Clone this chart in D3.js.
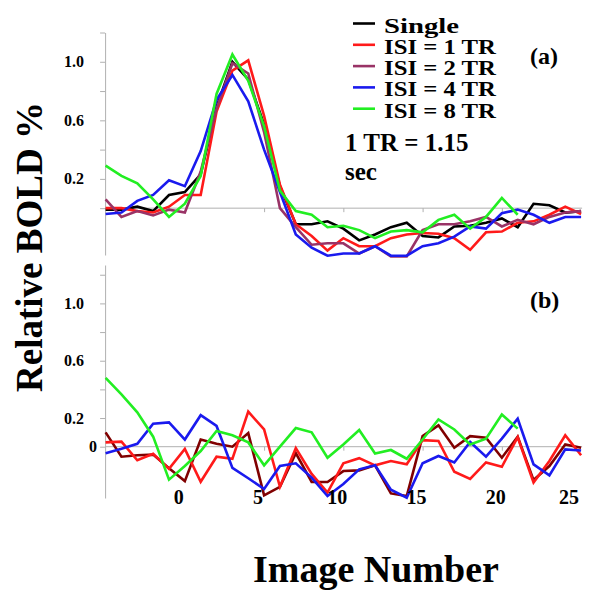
<!DOCTYPE html>
<html>
<head>
<meta charset="utf-8">
<script src="https://cdn.jsdelivr.net/npm/d3@7"></script>
<style>
  html, body { margin: 0; padding: 0; background: #fff; }
  svg text { font-family: "Liberation Serif", "Times New Roman", serif; font-weight: bold; fill: #000; }
</style>
</head>
<body>
<svg id="chart" width="600" height="598"></svg>
<script>
// ---------------- DATA ----------------
const imageNumbers = d3.range(-5, 26); // -5 .. 25
const seriesNames = ["Single", "ISI = 1 TR", "ISI = 2 TR", "ISI = 4 TR", "ISI = 8 TR"];
const seriesColors = ["#000000", "#ff1a1a", "#993366", "#1a1aee", "#22ee22"];

// Panel (a)
const aSingle = [-0.01,-0.01,0.01,-0.02,0.09,0.11,0.23,0.69,1.00,0.88,0.57,0.15,-0.11,-0.11,-0.09,-0.14,-0.22,-0.18,-0.13,-0.10,-0.19,-0.20,-0.125,-0.12,-0.10,-0.07,-0.13,0.03,0.02,-0.03,-0.02];
const aISI1   = [0.00,0.00,-0.02,-0.03,0.01,0.09,0.09,0.66,0.94,1.01,0.63,0.16,-0.11,-0.19,-0.29,-0.205,-0.26,-0.26,-0.205,-0.18,-0.17,-0.175,-0.205,-0.285,-0.165,-0.16,-0.10,-0.09,-0.045,0.01,-0.04];
const aISI2   = [0.06,-0.06,-0.02,-0.05,-0.01,-0.03,0.25,0.68,0.99,0.92,0.52,0.00,-0.13,-0.25,-0.24,-0.24,-0.31,-0.26,-0.33,-0.33,-0.15,-0.11,-0.11,-0.09,-0.06,-0.125,-0.08,-0.11,-0.06,-0.03,-0.02];
const aISI4   = [-0.04,-0.03,0.05,0.09,0.19,0.15,0.39,0.74,0.91,0.73,0.40,0.11,-0.18,-0.27,-0.325,-0.31,-0.31,-0.26,-0.325,-0.325,-0.26,-0.24,-0.195,-0.125,-0.14,-0.035,-0.01,-0.045,-0.10,-0.06,-0.06];
const aISI8   = [0.29,0.22,0.17,0.06,-0.06,0.03,0.22,0.78,1.05,0.87,0.56,0.12,-0.02,-0.045,-0.13,-0.12,-0.15,-0.205,-0.16,-0.15,-0.165,-0.08,-0.045,-0.14,-0.06,0.07,-0.045];

// Panel (b)
const bMaroon = [0.10,-0.07,-0.06,-0.055,-0.15,-0.24,0.05,0.02,0.00,0.095,-0.34,-0.28,-0.045,-0.246,-0.246,-0.17,-0.165,-0.13,-0.326,-0.344,0.074,0.149,-0.007,0.074,0.063,-0.077,0.07,-0.233,-0.135,0.016,-0.007];
const bRed    = [0.03,0.035,-0.095,-0.05,-0.155,-0.015,-0.245,-0.07,-0.085,0.245,0.12,-0.28,-0.01,-0.19,-0.32,-0.116,-0.08,-0.13,-0.10,-0.123,0.046,0.04,-0.175,-0.225,-0.11,-0.14,0.066,-0.25,-0.10,0.08,-0.06];
const bBlue   = [-0.045,-0.015,0.02,0.16,0.17,0.05,0.22,0.145,-0.148,-0.22,-0.295,-0.135,-0.116,-0.216,-0.344,-0.26,-0.158,-0.13,-0.30,-0.356,-0.116,-0.065,-0.11,0.033,-0.07,0.056,0.195,-0.123,-0.20,-0.019,-0.026];
const bGreen  = [0.48,0.365,0.24,0.07,-0.23,-0.135,-0.03,0.11,0.08,0.03,-0.13,0.00,0.13,0.10,-0.077,0.016,0.116,-0.047,-0.023,-0.084,0.05,0.19,0.12,0.016,0.056,0.225,0.126];
const bColors = ["#800000", "#ff1a1a", "#1a1aee", "#22ee22"];

const yTickValues = [0, 0.2, 0.4, 0.6, 0.8, 1.0, 1.2];
const yLabelsA = [0.2, 0.6, 1.0];
const yLabelsB = [0, 0.2, 0.6, 1.0];
const xTickValues = [0, 5, 10, 15, 20, 25];

// ---------------- DRAW ----------------
const svg = d3.select("#chart");

const x = d3.scaleLinear().domain([-5, 25]).range([105.6, 581.1]);
const yA = d3.scaleLinear().domain([-0.32, 1.2]).range([255, 32.5]);
const yB = d3.scaleLinear().domain([-0.358, 1.268]).range([498, 265]);

function panel(y, labels, seriesList, colors, tag, tagY) {
  const g = svg.append("g");
  const ax = g.append("g").attr("transform", `translate(${x(-5) - 0.5},0)`)
    .call(d3.axisLeft(y).tickValues(yTickValues).tickSize(5).tickSizeOuter(0).tickFormat(""));
  ax.selectAll("path, line").attr("stroke", "#b0b0b0");
  const zx = g.append("g").attr("transform", `translate(0,${y(0)})`)
    .call(d3.axisBottom(x).tickValues(xTickValues.slice(1, 5)).tickSize(4).tickSizeOuter(0).tickFormat(""));
  zx.selectAll("path, line").attr("stroke", "#b0b0b0");
  zx.select("path").attr("d", `M${x(-5)},0H${x(25) + 1}`);
  g.selectAll("text.yl").data(labels).enter().append("text")
    .attr("class", "yl")
    .attr("x", d => d === 0 ? 97 : 84)
    .attr("y", d => y(d))
    .attr("dy", "0.35em")
    .attr("text-anchor", "end")
    .style("font-size", "16px")
    .text(d => d === 0 ? "0" : d.toFixed(1));
  const line = d3.line().x((d, i) => x(imageNumbers[i])).y(d => y(d));
  seriesList.forEach((s, k) => {
    g.append("path").datum(s)
      .attr("fill", "none")
      .attr("stroke", colors[k])
      .attr("stroke-width", 2.6)
      .attr("stroke-linejoin", "miter")
      .attr("d", line);
  });
  g.append("text").attr("x", 530).attr("y", tagY).style("font-size", "24px").text(tag);
}

panel(yA, yLabelsA, [aSingle, aISI1, aISI2, aISI4, aISI8], seriesColors, "(a)", 64);
panel(yB, yLabelsB, [bMaroon, bRed, bBlue, bGreen], bColors, "(b)", 308);

svg.selectAll("text.xl").data(xTickValues).enter().append("text")
  .attr("class", "xl")
  .attr("x", d => x(d) - (d === 25 ? 12 : 6))
  .attr("y", 504)
  .attr("text-anchor", "middle")
  .style("font-size", "20px")
  .text(d => d);

// legend
const legend = svg.append("g");
seriesNames.forEach((name, k) => {
  const ly = 23.5 + k * 21.3;
  legend.append("line").attr("x1", 353).attr("x2", 375).attr("y1", ly).attr("y2", ly)
    .attr("stroke", seriesColors[k]).attr("stroke-width", 2.6);
  legend.append("text").attr("x", 384).attr("y", ly + 9)
    .style("font-size", "20px")
    .attr("textLength", 112).attr("lengthAdjust", "spacingAndGlyphs")
    .text(name)
    .attr("textLength", k === 0 ? 75 : 112);
});
svg.append("text").attr("x", 345).attr("y", 151).style("font-size", "25px").text("1 TR = 1.15");
svg.append("text").attr("x", 345).attr("y", 180).style("font-size", "25px").text("sec");

svg.append("text")
  .attr("transform", "translate(42,247) rotate(-90)")
  .attr("text-anchor", "middle")
  .style("font-size", "37px")
  .text("Relative BOLD %");
svg.append("text")
  .attr("x", 376).attr("y", 582)
  .attr("text-anchor", "middle")
  .style("font-size", "38px")
  .text("Image Number");
</script>
</body>
</html>
